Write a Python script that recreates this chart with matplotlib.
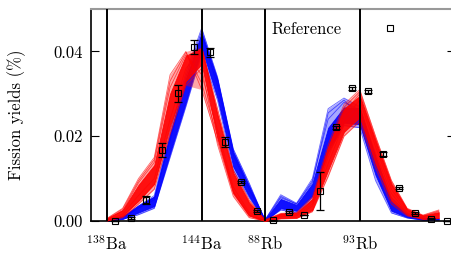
import matplotlib
matplotlib.use('Agg')
import matplotlib.pyplot as plt
import numpy as np

plt.rcParams['font.family'] = 'serif'
plt.rcParams['font.serif'] = ['cmr10', 'DejaVu Serif']
plt.rcParams['mathtext.fontset'] = 'cm'
plt.rcParams['axes.unicode_minus'] = False

# isotope slots: 138-147Ba, 88-99Rb
n_slot = 22
tick_pos = [0, 6, 10, 16]
tick_lab = [r'$^{138}$Ba', r'$^{144}$Ba', r'$^{88}$Rb', r'$^{93}$Rb']

# reference yields and errors (%)
ref_y = [0.0000, 0.0007, 0.0049, 0.0167, 0.0301, 0.0410, 0.0398, 0.0186, 0.0092, 0.0024, 0.0002,
         0.0021, 0.0014, 0.0071, 0.0221, 0.0313, 0.0306, 0.0158, 0.0078, 0.0019, 0.0005, 0.0000]
ref_err = [0.0001, 0.0002, 0.0009, 0.0016, 0.0020, 0.0016, 0.0011, 0.0012, 0.0003, 0.0002, 0.0001,
           0.0002, 0.0001, 0.0044, 0.0003, 0.0003, 0.0003, 0.0004, 0.0003, 0.0002, 0.0001, 0.0001]

# red ensemble: dense core band and a few stray samples
red_lo = [0.0001, 0.0012, 0.0048, 0.0088, 0.0225, 0.0330, 0.0370, 0.0195, 0.0066, 0.0013, 0.0000,
          0.0007, 0.0008, 0.0026, 0.0120, 0.0210, 0.0245, 0.0135, 0.0048, 0.0015, 0.0005, 0.0007]
red_hi = [0.0006, 0.0026, 0.0085, 0.0132, 0.0300, 0.0390, 0.0408, 0.0250, 0.0113, 0.0043, 0.0003,
          0.0018, 0.0019, 0.0052, 0.0175, 0.0265, 0.0295, 0.0190, 0.0088, 0.0027, 0.0013, 0.0021]
red_samples = [
    [0.0006, 0.0030, 0.0100, 0.0150, 0.0345, 0.0400, 0.0310, 0.0190, 0.0065, 0.0012, 0.0000,
     0.0010, 0.0012, 0.0035, 0.0135, 0.0230, 0.0265, 0.0160, 0.0065, 0.0020, 0.0008, 0.0015],
    [0.0005, 0.0028, 0.0095, 0.0145, 0.0330, 0.0398, 0.0325, 0.0200, 0.0070, 0.0014, 0.0001,
     0.0012, 0.0014, 0.0040, 0.0150, 0.0240, 0.0285, 0.0175, 0.0075, 0.0024, 0.0010, 0.0018],
    [0.0004, 0.0024, 0.0090, 0.0138, 0.0315, 0.0392, 0.0345, 0.0215, 0.0080, 0.0020, 0.0001,
     0.0014, 0.0016, 0.0046, 0.0160, 0.0255, 0.0300, 0.0185, 0.0085, 0.0028, 0.0012, 0.0022],
    [0.0002, 0.0012, 0.0045, 0.0085, 0.0215, 0.0330, 0.0410, 0.0265, 0.0120, 0.0050, 0.0003,
     0.0018, 0.0020, 0.0056, 0.0180, 0.0275, 0.0310, 0.0200, 0.0096, 0.0030, 0.0014, 0.0026],
    [0.0003, 0.0016, 0.0060, 0.0100, 0.0240, 0.0360, 0.0402, 0.0255, 0.0115, 0.0046, 0.0002,
     0.0016, 0.0018, 0.0050, 0.0170, 0.0268, 0.0305, 0.0195, 0.0092, 0.0028, 0.0013, 0.0024],
    [0.0000, 0.0008, 0.0040, 0.0075, 0.0205, 0.0320, 0.0360, 0.0180, 0.0058, 0.0008, 0.0000,
     0.0005, 0.0006, 0.0022, 0.0105, 0.0200, 0.0235, 0.0125, 0.0040, 0.0012, 0.0004, 0.0006],
]

# blue ensemble
blue_lo = [0.0000, 0.0005, 0.0020, 0.0035, 0.0160, 0.0280, 0.0408, 0.0290, 0.0128, 0.0058, 0.0000,
           0.0030, 0.0024, 0.0060, 0.0168, 0.0232, 0.0228, 0.0108, 0.0024, 0.0009, 0.0003, 0.0003]
blue_hi = [0.0003, 0.0011, 0.0037, 0.0058, 0.0205, 0.0335, 0.0443, 0.0333, 0.0162, 0.0082, 0.0003,
           0.0052, 0.0038, 0.0088, 0.0220, 0.0268, 0.0266, 0.0152, 0.0046, 0.0016, 0.0007, 0.0006]
blue_samples = [
    [0.0002, 0.0010, 0.0035, 0.0060, 0.0210, 0.0350, 0.0455, 0.0340, 0.0170, 0.0090, 0.0002,
     0.0062, 0.0042, 0.0100, 0.0265, 0.0290, 0.0270, 0.0150, 0.0055, 0.0019, 0.0007, 0.0006],
    [0.0002, 0.0009, 0.0032, 0.0055, 0.0200, 0.0340, 0.0448, 0.0335, 0.0165, 0.0085, 0.0002,
     0.0058, 0.0040, 0.0095, 0.0240, 0.0280, 0.0262, 0.0140, 0.0048, 0.0017, 0.0006, 0.0005],
    [0.0000, 0.0004, 0.0015, 0.0030, 0.0150, 0.0270, 0.0395, 0.0285, 0.0120, 0.0055, 0.0000,
     0.0026, 0.0019, 0.0055, 0.0160, 0.0225, 0.0220, 0.0095, 0.0019, 0.0007, 0.0002, 0.0003],
    [0.0001, 0.0008, 0.0030, 0.0050, 0.0190, 0.0320, 0.0440, 0.0320, 0.0155, 0.0075, 0.0001,
     0.0055, 0.0040, 0.0090, 0.0255, 0.0285, 0.0250, 0.0135, 0.0040, 0.0014, 0.0005, 0.0005],
]

x = np.arange(n_slot)

fig = plt.figure(figsize=(4.51, 2.54), dpi=100)
ax = fig.add_axes([0.2018, 0.1299, 0.8062, 0.8346])

# faint spread of all samples, then the dense core
ax.fill_between(x, np.min(blue_samples, axis=0), np.max(blue_samples, axis=0),
                color='blue', lw=0, alpha=0.35, zorder=2)
ax.fill_between(x, blue_lo, blue_hi, color='blue', lw=0.6, alpha=0.9, zorder=2)
for s in blue_samples:
    ax.plot(x, s, color='blue', lw=0.6, alpha=0.6, zorder=2)
ax.fill_between(x, np.min(red_samples, axis=0), np.max(red_samples, axis=0),
                color='red', lw=0, alpha=0.35, zorder=3)
ax.fill_between(x, red_lo, red_hi, color='red', lw=0.6, alpha=0.9, zorder=3)
for s in red_samples:
    ax.plot(x, s, color='red', lw=0.6, alpha=0.6, zorder=3)

for p in tick_pos:
    ax.axvline(p, color='black', lw=1.4, zorder=4)

ax.errorbar(x + 0.5, ref_y, yerr=ref_err, fmt='none', ecolor='black', elinewidth=0.9,
            capsize=3, capthick=0.9, zorder=5, clip_on=False)
ax.plot(x + 0.5, ref_y, 's', ms=4, mfc='none', mec='black', mew=0.8, label='Reference',
        zorder=6, clip_on=False)

ax.set_xlim(-1, n_slot)
ax.set_ylim(0, 0.05)
ax.set_xticks(tick_pos)
ax.set_xticklabels(tick_lab, fontsize=12)
ax.tick_params(axis='x', length=0, pad=9.5)
ax.set_yticks([0, 0.02, 0.04])
ax.set_yticklabels(['0.00', '0.02', '0.04'], fontsize=12)
ax.tick_params(axis='y', direction='in', length=6, width=0.8, left=True, right=True, pad=6)
ax.set_ylabel('Fission yields (%)', fontsize=12)
ax.yaxis.set_label_coords(-0.18, 0.5)

for k in ['left', 'bottom', 'right']:
    ax.spines[k].set_linewidth(1.2)
ax.spines['top'].set_color('#999999')
ax.spines['top'].set_linewidth(1.5)

ax.legend(loc='upper left', bbox_to_anchor=(0.496, 0.942), frameon=False, markerfirst=False,
          handlelength=4.2, handletextpad=0.8, borderpad=0, borderaxespad=0, fontsize=12)

fig.savefig('out.png', dpi=100)
